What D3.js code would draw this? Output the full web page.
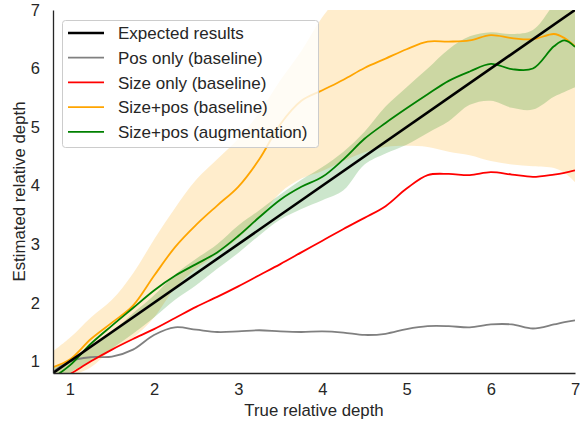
<!DOCTYPE html>
<html>
<head>
<meta charset="utf-8">
<script src="https://cdn.jsdelivr.net/npm/d3@7"></script>
<style>
	body { margin: 0; background: #fff; }
	text { font-family: "Liberation Sans", Arial, sans-serif; fill: #262626; }
</style>
</head>
<body>
<svg id="chart" width="586" height="422"></svg>
<script>
// margin variables
const svgWidth = 586;
const svgHeight = 422;
const plotLeft = 53;
const plotRight = 575;
const plotTop = 10;
const plotBottom = 373;
const tickFont = "16.5px";
const labelFont = "16.8px";
const legendFont = "17px";

// shared x grid (true relative depth)
const depths = [0.8, 1.0, 1.25, 1.5, 1.75, 2.0, 2.25, 2.5, 2.75, 3.0, 3.25, 3.5, 3.75, 4.0,
	4.25, 4.5, 4.75, 5.0, 5.25, 5.5, 5.75, 6.0, 6.25, 6.5, 6.75, 6.875, 7.0];

// series values
const expectedX = [0.8, 7.0];
const expectedY = [0.8, 7.0];
const posOnly = [0.82, 1.00, 1.07, 1.08, 1.20, 1.45, 1.58, 1.54, 1.50, 1.51, 1.53, 1.51, 1.50, 1.51,
	1.49, 1.45, 1.47, 1.55, 1.60, 1.60, 1.58, 1.63, 1.63, 1.56, 1.63, 1.67, 1.70];
const sizeOnly = [0.62, 0.78, 1.00, 1.20, 1.38, 1.55, 1.74, 1.93, 2.10, 2.28, 2.47, 2.66, 2.86, 3.06,
	3.26, 3.45, 3.65, 3.95, 4.18, 4.20, 4.18, 4.23, 4.19, 4.15, 4.19, 4.22, 4.26];
const sizePos = [0.90, 1.03, 1.38, 1.66, 1.95, 2.46, 2.95, 3.33, 3.66, 3.98, 4.45, 5.05, 5.45, 5.63,
	5.81, 6.01, 6.17, 6.33, 6.46, 6.46, 6.48, 6.57, 6.52, 6.50, 6.59, 6.52, 6.38];
const sizePosLow = [0.70, 0.75, 0.90, 1.20, 1.40, 1.75, 2.25, 2.58, 2.83, 3.10, 3.45, 3.88, 4.12, 4.25,
	4.42, 4.57, 4.66, 4.68, 4.66, 4.58, 4.52, 4.42, 4.36, 4.33, 4.30, 4.22, 4.06];
const sizePosHigh = [1.17, 1.40, 1.75, 2.05, 2.50, 3.08, 3.62, 4.10, 4.45, 4.80, 5.25, 5.80, 6.30, 6.88,
	7.30, 7.60, 7.80, 8.00, 8.10, 8.20, 8.20, 8.20, 8.20, 8.20, 8.20, 8.20, 8.20];
const augmented = [0.72, 0.93, 1.30, 1.61, 1.91, 2.21, 2.46, 2.66, 2.86, 3.14, 3.46, 3.76, 3.98, 4.15,
	4.45, 4.80, 5.07, 5.32, 5.56, 5.79, 5.95, 6.08, 5.99, 6.00, 6.38, 6.48, 6.37];
const augmentedLow = [0.55, 0.80, 1.00, 1.22, 1.47, 1.75, 2.05, 2.30, 2.58, 2.85, 3.15, 3.42, 3.60, 3.75,
	3.92, 4.36, 4.55, 4.70, 4.90, 5.10, 5.38, 5.45, 5.33, 5.30, 5.52, 5.60, 5.68];
const augmentedHigh = [0.90, 1.02, 1.22, 1.50, 1.82, 2.13, 2.48, 2.75, 3.00, 3.32, 3.58, 3.85, 4.10, 4.32,
	4.58, 4.92, 5.35, 5.68, 6.00, 6.33, 6.55, 6.62, 6.59, 6.66, 7.10, 7.30, 7.50];

// tick labels
const xTicks = [1, 2, 3, 4, 5, 6, 7];
const yTicks = [1, 2, 3, 4, 5, 6, 7];

// legend entries
const legendLabels = ["Expected results", "Pos only (baseline)", "Size only (baseline)",
	"Size+pos (baseline)", "Size+pos (augmentation)"];
const legendColors = ["#000000", "#808080", "#ff0000", "#ffa500", "#008000"];

var svg = d3.select("#chart");

// scales
const xScale = d3.scaleLinear().domain([0.8, 7]).range([plotLeft, plotRight]);
const yScale = d3.scaleLinear().domain([0.8, 7]).range([plotBottom, plotTop]);

svg.append("defs").append("clipPath")
	.attr("id", "plotClip")
	.append("rect")
	.attr("x", plotLeft)
	.attr("y", plotTop)
	.attr("width", plotRight - plotLeft)
	.attr("height", plotBottom - plotTop);

var plot = svg.append("g").attr("clip-path", "url(#plotClip)");

// bands
function drawBand(low, high, color) {
	var area = d3.area()
		.x((d, i) => xScale(depths[i]))
		.y0((d, i) => yScale(low[i]))
		.y1((d, i) => yScale(high[i]))
		.curve(d3.curveCatmullRom.alpha(0.5));
	plot.append("path")
		.attr("d", area(depths))
		.attr("fill", color)
		.attr("fill-opacity", 0.2);
}

drawBand(sizePosLow, sizePosHigh, "#ffa500");
drawBand(augmentedLow, augmentedHigh, "#008000");

// lines
function drawLine(xs, ys, color, width) {
	var line = d3.line()
		.x((d, i) => xScale(xs[i]))
		.y((d, i) => yScale(ys[i]))
		.curve(d3.curveCatmullRom.alpha(0.5));
	plot.append("path")
		.attr("d", line(ys))
		.attr("fill", "none")
		.attr("stroke", color)
		.attr("stroke-width", width);
}

drawLine(depths, posOnly, "#808080", 1.8);
drawLine(depths, sizeOnly, "#ff0000", 1.8);
drawLine(depths, sizePos, "#ffa500", 1.8);
drawLine(depths, augmented, "#008000", 1.8);
drawLine(expectedX, expectedY, "#000000", 2.6);

// axes
var xAxis = svg.append("g")
	.attr("transform", `translate(0,${plotBottom})`)
	.call(d3.axisBottom(xScale).tickValues(xTicks).tickFormat(d3.format("d"))
		.tickSize(0).tickSizeOuter(0).tickPadding(10));

var yAxis = svg.append("g")
	.attr("transform", `translate(${plotLeft},0)`)
	.call(d3.axisLeft(yScale).tickValues(yTicks).tickFormat(d3.format("d"))
		.tickSize(0).tickSizeOuter(0).tickPadding(13));

svg.selectAll(".domain")
	.attr("stroke", "#262626")
	.attr("stroke-width", 1.3);
svg.selectAll(".tick text")
	.style("font-size", tickFont)
	.attr("fill", "#262626");

// axis labels
svg.append("text")
	.attr("x", (plotLeft + plotRight) / 2)
	.attr("y", 416)
	.attr("text-anchor", "middle")
	.style("font-size", labelFont)
	.text("True relative depth");

svg.append("text")
	.attr("transform", `translate(25,${(plotTop + plotBottom) / 2}) rotate(-90)`)
	.attr("text-anchor", "middle")
	.style("font-size", labelFont)
	.text("Estimated relative depth");

// legend
var legend = svg.append("g");

legend.append("rect")
	.attr("x", 62.5)
	.attr("y", 20.5)
	.attr("width", 256)
	.attr("height", 127)
	.attr("rx", 3)
	.attr("fill", "#ffffff")
	.attr("fill-opacity", 0.8)
	.attr("stroke", "#cccccc")
	.attr("stroke-width", 1);

legendLabels.forEach(function (label, i) {
	var rowY = 33 + i * 24.7;
	legend.append("line")
		.attr("x1", 68)
		.attr("x2", 104)
		.attr("y1", rowY)
		.attr("y2", rowY)
		.attr("stroke", legendColors[i])
		.attr("stroke-width", i == 0 ? 2.6 : 1.8);
	legend.append("text")
		.attr("x", 118)
		.attr("y", rowY)
		.attr("dy", "0.36em")
		.style("font-size", legendFont)
		.text(label);
});
</script>
</body>
</html>
